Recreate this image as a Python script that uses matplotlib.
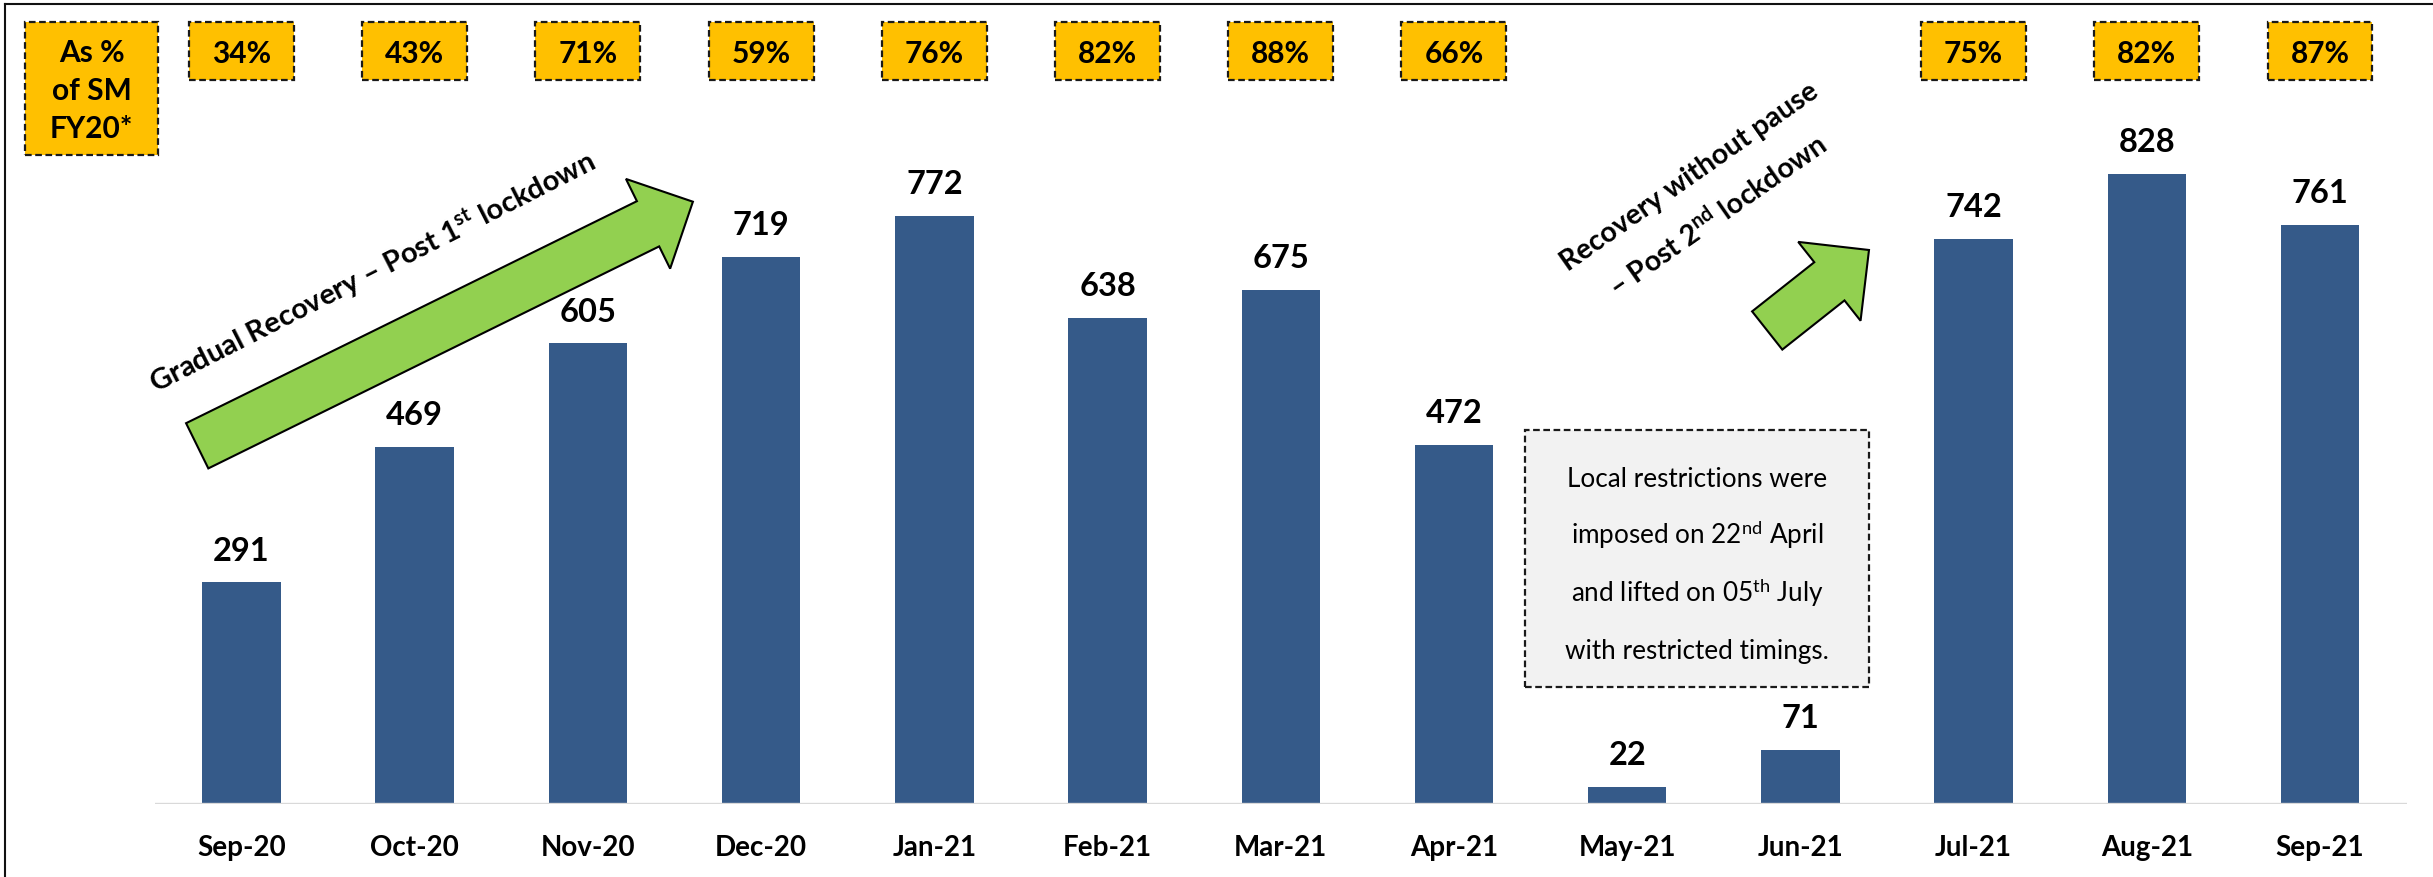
import matplotlib
matplotlib.use("Agg")
import matplotlib.pyplot as plt
from matplotlib.patches import Rectangle, FancyArrow
from matplotlib.lines import Line2D
from matplotlib.transforms import IdentityTransform, blended_transform_factory

plt.rcParams['font.family'] = ['Lato', 'DejaVu Sans']
plt.rcParams['mathtext.fontset'] = 'custom'
plt.rcParams['mathtext.rm'] = 'Lato'
plt.rcParams['mathtext.bf'] = 'Lato:bold'
plt.rcParams['mathtext.it'] = 'Lato:italic'

# data
months = ["Sep-20", "Oct-20", "Nov-20", "Dec-20", "Jan-21", "Feb-21", "Mar-21",
          "Apr-21", "May-21", "Jun-21", "Jul-21", "Aug-21", "Sep-21"]
sales = [291, 469, 605, 719, 772, 638, 675, 472, 22, 71, 742, 828, 761]
pct_of_fy20 = ["34%", "43%", "71%", "59%", "76%", "82%", "88%", "66%",
               None, None, "75%", "82%", "87%"]
pct_header = ["As %", "of SM", "FY20*"]
note_lines = ["Local restrictions were",
              r"imposed on 22$^{\mathrm{nd}}$ April",
              r"and lifted on 05$^{\mathrm{th}}$ July",
              "with restricted timings."]
arrow1_text = r"Gradual Recovery – Post 1$^{\mathbf{st}}$ lockdown"
arrow2_text = ["Recovery without pause", r"– Post 2$^{\mathbf{nd}}$ lockdown"]

W, H = 2433, 877
bar_color = "#355A89"
yellow = "#FFC000"
green = "#92D050"
edge = "#1A1A1A"
px = IdentityTransform()  # display pixels, origin bottom-left

fig = plt.figure(figsize=(W / 100, H / 100), dpi=100)
fig.patch.set_facecolor("white")
ax = fig.add_axes([154.9 / W, 73 / H, (2406.6 - 154.9) / W, (H - 73) / H])
ax.set_xlim(-0.5, 12.5)
ax.set_ylim(0, (H - 73) / 0.7612)
ax.axis("off")

x = list(range(len(months)))
ax.bar(x, sales, width=0.453, color=bar_color, zorder=2)
ax.axhline(0, color="#D9D9D9", lw=1.7, zorder=3)

for i, v in enumerate(sales):
    ax.annotate(str(v), (i, v), xytext=(0, 15.8), textcoords="offset points",
                ha="center", va="baseline", fontsize=23.5, fontweight="bold")

bt = blended_transform_factory(ax.transData, px)
for i, m in enumerate(months):
    ax.text(i, H - 855.7, m, transform=bt, ha="center", va="baseline",
            fontsize=20, fontweight="bold")

# percentage boxes on top
dash = (0, (3.0, 1.6))
for i, p in enumerate(pct_of_fy20):
    if p is None:
        continue
    ax.add_patch(Rectangle((i - 0.303, H - 80), 0.606, 58.3, transform=bt,
                           facecolor=yellow, edgecolor=edge, lw=1.6,
                           linestyle=dash, clip_on=False))
    ax.text(i, H - 62.7, p, transform=bt, ha="center", va="baseline",
            fontsize=21.5, fontweight="bold")

fig.add_artist(Rectangle((25, H - 155), 133, 133.3, transform=px,
                         facecolor=yellow, edgecolor=edge, lw=1.6, linestyle=dash))
for k, line in enumerate(pct_header):
    fig.text(91.5, H - (61.7 + 38.2 * k), line, transform=px, ha="center",
             va="baseline", fontsize=21.5, fontweight="bold")

# note box
fig.add_artist(Rectangle((1525, H - 687), 344, 257, transform=px,
                         facecolor="#F2F2F2", edgecolor=edge, lw=1.6, linestyle=dash))
for k, line in enumerate(note_lines):
    fig.text(1697, H - (486.7 + 57.5 * k), line, transform=px, ha="center",
             va="baseline", fontsize=18.8)

# arrows
fig.add_artist(FancyArrow(197.2, H - 445.8, 495.7, 244.1, width=50.4,
                          head_width=100, head_length=50, length_includes_head=True,
                          transform=px, facecolor=green, edgecolor="black", lw=1.5,
                          joinstyle="miter"))
fig.add_artist(FancyArrow(1767.2, H - 330.5, 101.8, 80.5, width=48.7,
                          head_width=100.5, head_length=50.5, length_includes_head=True,
                          transform=px, facecolor=green, edgecolor="black", lw=1.5,
                          joinstyle="miter"))

fig.text(372.6, H - 271.7, arrow1_text, transform=px, rotation=27,
         rotation_mode="anchor", ha="center", va="center", fontsize=21,
         fontweight="bold")
fig.text(1690, H - 177, arrow2_text[0], transform=px, rotation=35,
         rotation_mode="anchor", ha="center", va="center", fontsize=20.5,
         fontweight="bold")
fig.text(1717, H - 215, arrow2_text[1], transform=px, rotation=35,
         rotation_mode="anchor", ha="center", va="center", fontsize=20.5,
         fontweight="bold")

# outer frame (left and top edges visible)
fig.add_artist(Line2D([5, 5], [0, H - 4], transform=px, color="#111111", lw=1.5))
fig.add_artist(Line2D([5, W], [H - 4, H - 4], transform=px, color="#111111", lw=1.5))

fig.savefig("out.png", dpi=100, facecolor="white")
